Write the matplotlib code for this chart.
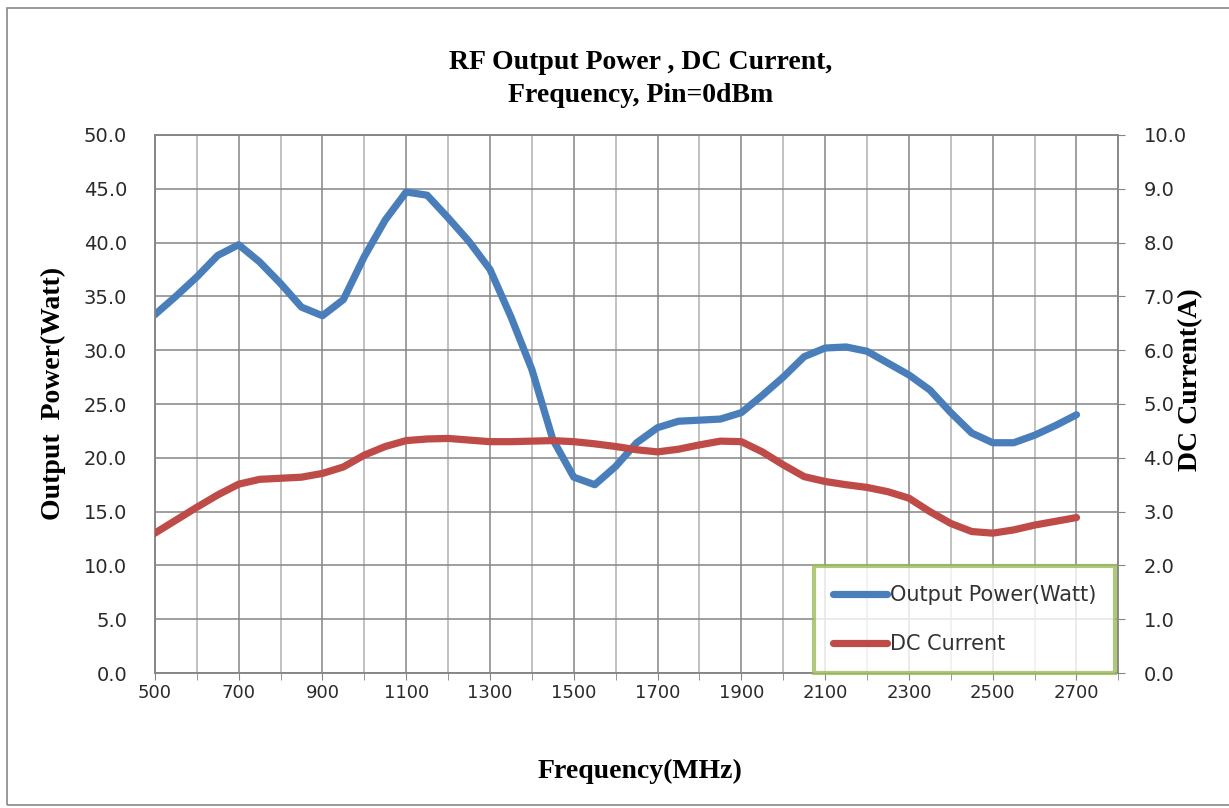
import matplotlib
matplotlib.use("Agg")
import matplotlib.pyplot as plt
from matplotlib.patches import Rectangle

# frequency points (MHz), read every 50 MHz
freq = [500, 550, 600, 650, 700, 750, 800, 850, 900, 950, 1000, 1050, 1100,
        1150, 1200, 1250, 1300, 1350, 1400, 1450, 1500, 1550, 1600, 1650,
        1700, 1750, 1800, 1850, 1900, 1950, 2000, 2050, 2100, 2150, 2200,
        2250, 2300, 2350, 2400, 2450, 2500, 2550, 2600, 2650, 2700]
# output power (Watt), left axis
power = [33.3, 35.0, 36.8, 38.8, 39.8, 38.2, 36.2, 34.0, 33.2, 34.7, 38.7, 42.1, 44.7,
         44.4, 42.3, 40.1, 37.5, 33.1, 28.2, 21.7, 18.2, 17.5, 19.2, 21.4,
         22.8, 23.4, 23.5, 23.6, 24.2, 25.8, 27.5, 29.4, 30.2, 30.3, 29.9,
         28.8, 27.7, 26.3, 24.2, 22.3, 21.4, 21.4, 22.1, 23.0, 24.0]
# DC current (A), right axis
current = [2.60, 2.84, 3.08, 3.31, 3.51, 3.60, 3.62, 3.64, 3.71, 3.83, 4.05, 4.21, 4.32,
           4.35, 4.36, 4.33, 4.30, 4.30, 4.31, 4.32, 4.30, 4.26, 4.21, 4.15,
           4.11, 4.16, 4.24, 4.31, 4.30, 4.11, 3.87, 3.65, 3.56, 3.50, 3.45,
           3.37, 3.25, 3.00, 2.78, 2.63, 2.60, 2.66, 2.75, 2.82, 2.89]

xticks = list(range(500, 2701, 200))
left_ticks = [0, 5, 10, 15, 20, 25, 30, 35, 40, 45, 50]
right_ticks = [0, 1, 2, 3, 4, 5, 6, 7, 8, 9, 10]

blue = "#4A7EBB"
red = "#BE4B48"
serif = ["Liberation Serif", "DejaVu Serif"]
sans = ["DejaVu Sans"]

fig = plt.figure(figsize=(12.29, 8.08), dpi=100)
fig.patches.append(Rectangle((0.006, 0.004), 1.2, 0.986, transform=fig.transFigure,
                             fill=False, edgecolor="#888888", linewidth=1.2))

ax = fig.add_axes([0.126, 0.167, 0.784, 0.666])
ax2 = ax.twinx()

l1, = ax.plot(freq, power, color=blue, lw=5.2, solid_joinstyle="round",
              solid_capstyle="round", label="Output Power(Watt)", zorder=3)
l2, = ax2.plot(freq, current, color=red, lw=5.2, solid_joinstyle="round",
               solid_capstyle="round", label="DC Current", zorder=3)

ax.set_xlim(500, 2800)
ax.set_ylim(0, 50)
ax2.set_ylim(0, 10)

ax.set_xticks(xticks)
ax.set_xticks(range(600, 2801, 200), minor=True)
ax.set_yticks(left_ticks)
ax2.set_yticks(right_ticks)
ax.set_yticklabels(["%.1f" % v for v in left_ticks])
ax2.set_yticklabels(["%.1f" % v for v in right_ticks])

ax.grid(True, which="major", color="#858585", lw=1.1)
ax.grid(True, which="minor", axis="x", color="#b0b0b0", lw=1.1)
ax.set_axisbelow(True)

for a in (ax, ax2):
    for s in a.spines.values():
        s.set_color("#858585")
        s.set_linewidth(1.1)

ax.tick_params(axis="x", which="both", length=5, color="#858585", labelsize=13, pad=3)
ax.tick_params(axis="y", length=0, labelsize=14, pad=20)
ax2.tick_params(axis="y", length=5, color="#858585", labelsize=14, pad=13)
for lab in ax.get_xticklabels() + ax.get_yticklabels() + ax2.get_yticklabels():
    lab.set_family(sans)
    lab.set_color("#2a2a2a")

ax.set_xlabel("Frequency(MHz)", fontsize=20, fontweight="bold", family=serif)
ax.xaxis.set_label_coords(0.504, -0.16)
ax.set_ylabel("Output  Power(Watt)", fontsize=20, fontweight="bold", family=serif)
ax.yaxis.set_label_coords(-0.092, 0.52)
ax2.set_ylabel("DC Current(A)", fontsize=20, fontweight="bold", family=serif)
ax2.yaxis.set_label_coords(1.062, 0.545)

fig.text(0.521, 0.902, "RF Output Power , DC Current,\nFrequency, Pin=0dBm",
         ha="center", va="center", fontsize=20, fontweight="bold", family=serif,
         linespacing=1.4)

leg = ax2.legend(handles=[l1, l2], loc="lower right", bbox_to_anchor=(0.997, 0.0),
                 fontsize=15, frameon=True, fancybox=False, handlelength=2.6,
                 handletextpad=0.15, labelspacing=1.4, borderpad=0.9, borderaxespad=0)
leg.get_frame().set_edgecolor("#9BBB59")
leg.get_frame().set_linewidth(3)
for t in leg.get_texts():
    t.set_family(sans)
    t.set_color("#333333")

fig.savefig("out.png", dpi=100)
